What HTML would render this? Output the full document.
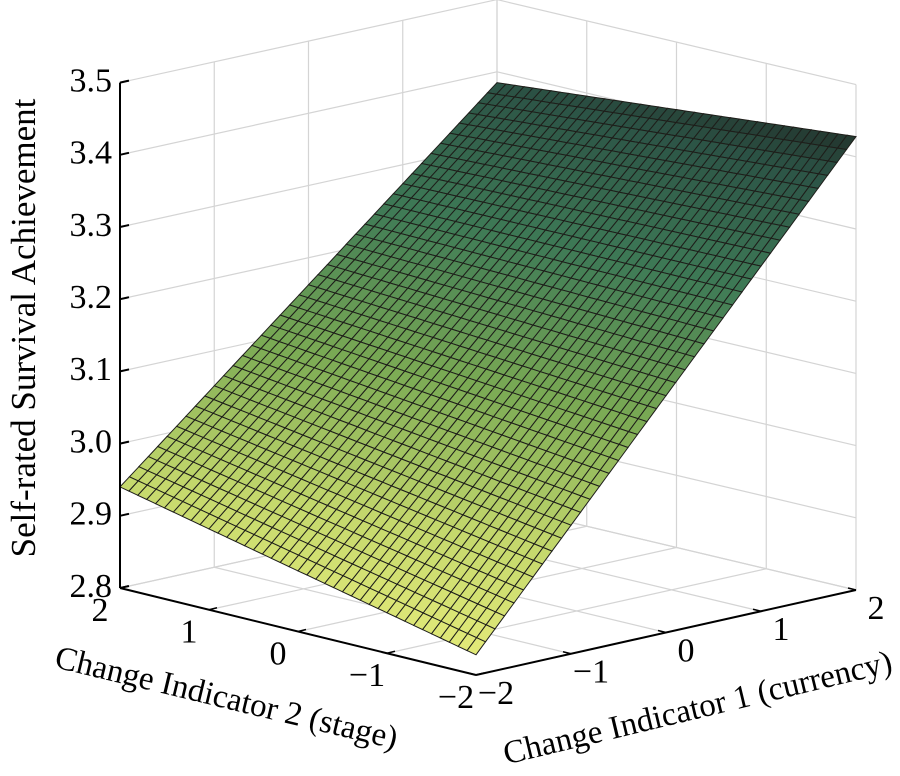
<!DOCTYPE html>
<html><head><meta charset="utf-8">
<style>
html,body{margin:0;padding:0;background:#fff;}
svg{display:block;font-family:"Liberation Serif",serif;}
</style></head>
<body>
<svg id="chart" width="900" height="776" viewBox="0 0 900 776" xmlns="http://www.w3.org/2000/svg">
<g id="walls"></g>
<g id="surface"></g>
<g id="axes"></g>
<text transform="translate(35,328) rotate(-90)" text-anchor="middle" font-size="35">Self-rated Survival Achievement</text>
<text transform="translate(224,708) rotate(13.5)" text-anchor="middle" font-size="33">Change Indicator 2 (stage)</text>
<text transform="translate(700,718) rotate(-13.5)" text-anchor="middle" font-size="33">Change Indicator 1 (currency)</text>
</svg>
<script>
// data
const zTicks = [2.8, 2.9, 3.0, 3.1, 3.2, 3.3, 3.4, 3.5];
const x1Ticks = [-2, -1, 0, 1, 2];
const x2Ticks = [-2, -1, 0, 1, 2];
// surface z values at corners [x1,x2]
const cornerX1 = [-2, 2];
const cornerX2 = [-2, 2];
const cornerZ = [[2.828, 2.94], [3.428, 3.385]]; // cornerZ[i1][i2]
const meshN = 40;

const NS = "http://www.w3.org/2000/svg";
const F=[476,675], R=[856,590], L=[120,588], B=[497,505];
const zMin=2.8, zMax=3.5, zScale=722;
function floor(x1,x2){
  const u=(x1+2)/4, v=(x2+2)/4;
  return [F[0]*(1-u)*(1-v)+R[0]*u*(1-v)+L[0]*(1-u)*v+B[0]*u*v,
          F[1]*(1-u)*(1-v)+R[1]*u*(1-v)+L[1]*(1-u)*v+B[1]*u*v];
}
function proj(x1,x2,z){const p=floor(x1,x2);return [p[0], p[1]-(z-zMin)*zScale];}
function surfZ(x1,x2){
  const u=(x1-cornerX1[0])/(cornerX1[1]-cornerX1[0]), v=(x2-cornerX2[0])/(cornerX2[1]-cornerX2[0]);
  return cornerZ[0][0]*(1-u)*(1-v)+cornerZ[1][0]*u*(1-v)+cornerZ[0][1]*(1-u)*v+cornerZ[1][1]*u*v;
}
const stops=[[2.8,[234,238,124]],[2.95,[196,216,108]],[3.1,[122,170,84]],[3.25,[62,122,86]],[3.38,[44,84,70]],[3.45,[30,38,34]]];
function color(z){
  if(z<=stops[0][0]) return `rgb(${stops[0][1]})`;
  for(let i=1;i<stops.length;i++){ if(z<=stops[i][0]){const a=stops[i-1],b=stops[i],t=(z-a[0])/(b[0]-a[0]);
    return `rgb(${a[1].map((c,k)=>Math.round(c+(b[1][k]-c)*t)).join(',')})`;}}
  return `rgb(${stops[stops.length-1][1]})`;
}
function line(g,a,b,stroke,w,name){
  const l=document.createElementNS(NS,'line');
  l.setAttribute('x1',a[0]);l.setAttribute('y1',a[1]);l.setAttribute('x2',b[0]);l.setAttribute('y2',b[1]);
  l.setAttribute('stroke',stroke);l.setAttribute('stroke-width',w);
  
  
  g.appendChild(l);
}
function text(g,x,y,s,anchor,name){
  const t=document.createElementNS(NS,'text');
  t.setAttribute('x',x);t.setAttribute('y',y);t.setAttribute('font-size','34');t.setAttribute('text-anchor',anchor);
  t.setAttribute('dominant-baseline','middle');t.textContent=s;
  
  
  g.appendChild(t);
}
const walls=document.getElementById('walls');
const gc='#d4d4d4';
zTicks.forEach(z=>{
  line(walls,proj(-2,2,z),proj(2,2,z),gc,1.2,'wall-gridline-z');
  line(walls,proj(2,2,z),proj(2,-2,z),gc,1.2,'wall-gridline-z');
});
x1Ticks.forEach(x=>{
  line(walls,proj(x,2,zMin),proj(x,2,zMax),gc,1.2,'wall-gridline-x1');
  line(walls,proj(x,2,zMin),proj(x,-2,zMin),gc,1.2,'floor-gridline-x1');
});
x2Ticks.forEach(x=>{
  line(walls,proj(2,x,zMin),proj(2,x,zMax),gc,1.2,'wall-gridline-x2');
  line(walls,proj(-2,x,zMin),proj(2,x,zMin),gc,1.2,'floor-gridline-x2');
});
const surf=document.getElementById('surface');
const cells=[];
for(let i=0;i<meshN;i++)for(let j=0;j<meshN;j++)cells.push([i,j]);
cells.sort((a,b)=>(b[0]+b[1])-(a[0]+a[1]));
const step=4/meshN;
cells.forEach(([i,j])=>{
  const a=-2+i*step,b=-2+j*step,c=a+step,d=b+step;
  const pts=[[a,b],[c,b],[c,d],[a,d]].map(p=>proj(p[0],p[1],surfZ(p[0],p[1])));
  const zc=surfZ(a+step/2,b+step/2);
  const p=document.createElementNS(NS,'polygon');
  p.setAttribute('points',pts.map(q=>q[0].toFixed(1)+','+q[1].toFixed(1)).join(' '));
  p.setAttribute('fill',color(zc));p.setAttribute('stroke','#1e1e1a');p.setAttribute('stroke-width','1');
  
  
  surf.appendChild(p);
});
const ax=document.getElementById('axes');
line(ax,proj(-2,2,zMin),proj(-2,2,zMax),'#000',2,'z-axis-line');
line(ax,proj(-2,2,zMin),proj(-2,-2,zMin),'#000',2,'x2-axis-line');
line(ax,proj(-2,-2,zMin),proj(2,-2,zMin),'#000',2,'x1-axis-line');
zTicks.forEach(z=>{
  const p=proj(-2,2,z);
  line(ax,p,[p[0]+9,p[1]-2],'#000',2,'z-tick');
  text(ax,p[0]-8,p[1]+1,z.toFixed(1),'end','z-tick-label');
});
x2Ticks.forEach(x=>{
  const p=proj(-2,x,zMin);
  line(ax,p,[p[0]+8,p[1]-2],'#000',1.5,'x2-tick');
  text(ax,p[0]-20,p[1]+25,x<0?'\u2212'+(-x):String(x),'middle','x2-tick-label');
});
x1Ticks.forEach(x=>{
  const p=proj(x,-2,zMin);
  line(ax,p,[p[0]-8,p[1]-2],'#000',1.5,'x1-tick');
  text(ax,p[0]+20,p[1]+21,x<0?'\u2212'+(-x):String(x),'middle','x1-tick-label');
});
</script>
</body></html>
